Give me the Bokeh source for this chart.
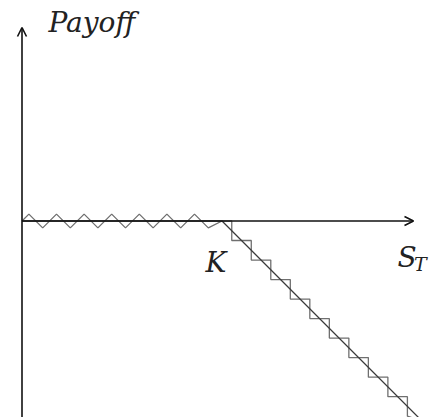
import math
from bokeh.plotting import figure
from bokeh.models import Range1d, Arrow, OpenHead
from bokeh.core.properties import value
from bokeh.embed import file_html
from bokeh.resources import INLINE

# Data: short call payoff
strike = 10.0
spot = [0.0, 10.0, 20.0]
payoff = [0.0, 0.0, -10.0]
x_axis_end = 19.575
y_axis_top = 9.675
y_axis_bottom = -10.5

# zigzag decoration parameters (data units)
zz_period = 1.38
zz_amp = 0.345


def zigzag(xs, ys, period, amp):
    mx, my = [], []
    for i in range(len(xs) - 1):
        x0, y0, x1, y1 = xs[i], ys[i], xs[i + 1], ys[i + 1]
        dx, dy = x1 - x0, y1 - y0
        L = math.hypot(dx, dy)
        ux, uy = dx / L, dy / L
        nx, ny = -uy, ux
        px, py = [x0], [y0]
        t = period / 4
        k = 0
        while t < L - period / 4 + 1e-9:
            s = 1 if k % 2 == 0 else -1
            px.append(x0 + ux * t + nx * amp * s)
            py.append(y0 + uy * t + ny * amp * s)
            t += period / 2
            k += 1
        px.append(x1)
        py.append(y1)
        mx.append(px)
        my.append(py)
    return mx, my


W, H = 433, 417
p = figure(width=W, height=H, output_backend="svg", toolbar_location=None,
           x_range=Range1d(-1.075, 20.575), y_range=Range1d(-9.825, 11.025),
           x_axis_type=None, y_axis_type=None, min_border=0)
p.grid.visible = False
p.outline_line_color = None
p.background_fill_color = "white"
p.border_fill_color = "white"

# zigzag decoration
zx, zy = zigzag(spot, payoff, zz_period, zz_amp)
p.multi_line(xs=zx, ys=zy, line_color="#6f6f6f", line_width=1.3)

# payoff line
p.line(spot, payoff, line_color="#3a3a3a", line_width=1.3)

# axes with arrows
p.add_layout(Arrow(x_start=0, y_start=0, x_end=x_axis_end, y_end=0,
                   line_color="#111111", line_width=1.6,
                   end=OpenHead(size=9, line_color="#111111", line_width=1.6)))
p.add_layout(Arrow(x_start=0, y_start=y_axis_bottom, x_end=0, y_end=y_axis_top,
                   line_color="#111111", line_width=1.6,
                   end=OpenHead(size=9, line_color="#111111", line_width=1.6)))

common = dict(text_font=value("DejaVu Serif"), text_font_style="italic",
              text_color="#222222", text_baseline="alphabetic")
p.text(x=[1.325], y=[9.95], text=["Payoff"], text_font_size="28px",
       text_align="left", **common)
p.text(x=[strike], y=[-2.075], text=["K"], text_font_size="28px",
       text_align="center", x_offset=-6, **common)
p.text(x=[18.775], y=[-1.825], text=["S"], text_font_size="28px",
       text_align="left", **common)
p.text(x=[19.6], y=[-2.125], text=["T"], text_font_size="19px",
       text_align="left", **common)

open("out.html", "w").write(file_html(p, INLINE))
